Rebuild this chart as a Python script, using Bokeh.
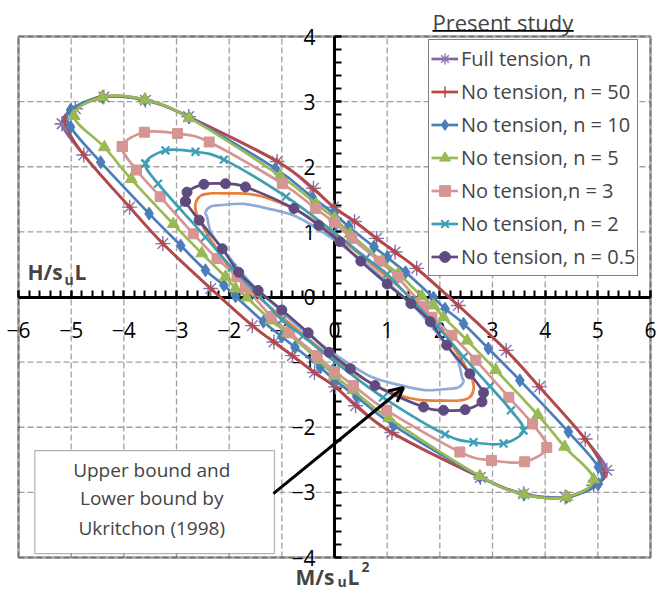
from bokeh.plotting import figure
from bokeh.models import (Range1d, FixedTicker, Legend, LegendItem, Label,
                          BoxAnnotation, Arrow, OpenHead, ColumnDataSource)
from bokeh.embed import file_html
from bokeh.resources import INLINE

# ---------------- data ----------------
x_ticks = [-6, -5, -4, -3, -2, -1, 0, 1, 2, 3, 4, 5, 6]
y_ticks = [-4, -3, -2, -1, 0, 1, 2, 3, 4]

ft_x = [-5.17, -4.92, -4.38, -3.59, -2.77, -1.09, -0.40, -0.02, 0.38, 0.80, 1.15, 1.56, 2.35, 3.26, 3.89, 4.76,
        5.17, 4.92, 4.38, 3.59, 2.77, 1.09, 0.40, 0.02, -0.38, -0.80, -1.15, -1.56, -2.35, -3.26, -3.89, -4.76, -5.17]
ft_y = [2.66, 2.89, 3.07, 3.02, 2.77, 2.08, 1.67, 1.38, 1.16, 0.90, 0.69, 0.44, -0.13, -0.82, -1.38, -2.18,
        -2.66, -2.89, -3.07, -3.02, -2.77, -2.08, -1.67, -1.38, -1.16, -0.90, -0.69, -0.44, 0.13, 0.82, 1.38, 2.18, 2.66]

n50_x = [-5.12, -4.92, -4.40, -3.60, -2.78, -1.10, -0.41, -0.01, 0.38, 0.80, 1.15, 1.56, 2.35, 3.26, 3.89, 4.76,
         5.12, 4.92, 4.40, 3.60, 2.78, 1.10, 0.41, 0.01, -0.38, -0.80, -1.15, -1.56, -2.35, -3.26, -3.89, -4.76, -5.12]
n50_y = [2.70, 2.90, 3.08, 3.03, 2.77, 2.09, 1.66, 1.38, 1.16, 0.90, 0.69, 0.44, -0.13, -0.82, -1.38, -2.18,
         -2.70, -2.90, -3.08, -3.03, -2.77, -2.09, -1.66, -1.38, -1.16, -0.90, -0.69, -0.44, 0.13, 0.82, 1.38, 2.18, 2.70]

n10_x = [-5.01, -4.41, -3.60, -2.76, -1.12, -0.42, -0.01, 0.27, 0.75, 1.00, 1.35, 1.88, 2.10, 2.45, 2.92, 3.52, 4.44, 5.01,
         5.01, 4.41, 3.60, 2.76, 1.12, 0.42, 0.01, -0.27, -0.75, -1.00, -1.35, -1.88, -2.10, -2.45, -2.92, -3.52, -4.44, -5.01, -5.01]
n10_y = [2.87, 3.07, 3.03, 2.76, 1.97, 1.53, 1.28, 1.08, 0.77, 0.61, 0.38, -0.01, -0.18, -0.41, -0.79, -1.28, -2.07, -2.61,
         -2.87, -3.07, -3.03, -2.76, -1.97, -1.53, -1.28, -1.08, -0.77, -0.61, -0.38, 0.01, 0.18, 0.41, 0.79, 1.28, 2.07, 2.61, 2.87]

n5_x = [-4.95, -4.41, -3.60, -2.76, -1.03, -0.35, 0.00, 0.30, 0.90, 1.21, 1.66, 1.88, 2.07, 2.52, 3.06, 3.86, 4.37,
        4.92, 4.41, 3.60, 2.76, 1.03, 0.35, 0.00, -0.30, -0.90, -1.21, -1.66, -1.88, -2.07, -2.52, -3.06, -3.86, -4.37, -4.95]
n5_y = [2.78, 3.07, 3.03, 2.75, 1.86, 1.43, 1.21, 0.97, 0.55, 0.36, 0.01, -0.13, -0.31, -0.67, -1.12, -1.81, -2.30,
        -2.80, -3.07, -3.03, -2.75, -1.86, -1.43, -1.21, -0.97, -0.55, -0.36, -0.01, 0.13, 0.31, 0.67, 1.12, 1.81, 2.30, 2.78]

n3_x = [-4.03, -3.61, -2.98, -2.38, -0.99, -0.36, 0.00, 0.33, 0.85, 1.20, 1.69, 1.85, 2.23, 2.68, 3.31, 3.76,
        4.03, 3.61, 2.98, 2.38, 0.99, 0.36, 0.00, -0.33, -0.85, -1.20, -1.69, -1.85, -2.23, -2.68, -3.31, -3.76, -4.03]
n3_y = [2.31, 2.53, 2.51, 2.38, 1.74, 1.36, 1.14, 0.90, 0.55, 0.30, -0.15, -0.31, -0.59, -0.97, -1.54, -1.95,
        -2.31, -2.53, -2.51, -2.38, -1.74, -1.36, -1.14, -0.90, -0.55, -0.30, 0.15, 0.31, 0.59, 0.97, 1.54, 1.95, 2.31]

n2_x = [-3.59, -3.21, -2.64, -2.10, -0.92, -0.02, 0.60, 1.00, 1.47, 1.95, 2.45, 2.95, 3.35,
        3.59, 3.21, 2.64, 2.10, 0.92, 0.02, -0.60, -1.00, -1.47, -1.95, -2.45, -2.95, -3.35, -3.59]
n2_y = [2.05, 2.25, 2.23, 2.11, 1.54, 1.00, 0.60, 0.35, -0.05, -0.45, -0.92, -1.37, -1.74,
        -2.05, -2.25, -2.23, -2.11, -1.54, -1.00, -0.60, -0.35, 0.05, 0.45, 0.92, 1.37, 1.74, 2.05]

n05_x = [-2.83, -2.80, -2.48, -2.07, -1.69, -0.77, -0.30, 0.10, 0.50, 1.00, 1.45, 1.82, 2.13, 2.57,
         2.83, 2.80, 2.48, 2.07, 1.69, 0.77, 0.30, -0.10, -0.50, -1.00, -1.45, -1.82, -2.13, -2.57, -2.83]
n05_y = [1.47, 1.61, 1.73, 1.74, 1.69, 1.36, 1.10, 0.85, 0.55, 0.20, -0.10, -0.38, -0.74, -1.18,
         -1.47, -1.61, -1.73, -1.74, -1.69, -1.36, -1.10, -0.85, -0.55, -0.20, 0.10, 0.38, 0.74, 1.18, 1.47]

ub_x = [-2.64, -2.55, -2.35, -2.00, -1.60, -1.21, -0.71, -0.01, 0.68, 1.30, 1.90, 2.26, 2.50, 2.62,
        2.64, 2.55, 2.35, 2.00, 1.60, 1.21, 0.71, 0.01, -0.68, -1.30, -1.90, -2.26, -2.50, -2.62, -2.64]
ub_y = [1.43, 1.55, 1.59, 1.59, 1.58, 1.50, 1.33, 0.97, 0.52, 0.10, -0.35, -0.77, -1.08, -1.28,
        -1.43, -1.55, -1.59, -1.59, -1.58, -1.50, -1.33, -0.97, -0.52, -0.10, 0.35, 0.77, 1.08, 1.28, 1.43]

lb_x = [-2.45, -2.35, -2.16, -1.72, -1.28, -0.71, -0.08, 0.68, 1.20, 1.60, 2.01, 2.33, 2.42,
        2.45, 2.35, 2.16, 1.72, 1.28, 0.71, 0.08, -0.68, -1.20, -1.60, -2.01, -2.33, -2.42, -2.45]
lb_y = [1.30, 1.39, 1.41, 1.43, 1.36, 1.23, 0.92, 0.46, 0.08, -0.22, -0.62, -0.97, -1.23,
        -1.30, -1.39, -1.41, -1.43, -1.36, -1.23, -0.92, -0.46, -0.08, 0.22, 0.62, 0.97, 1.23, 1.30]

series_names = ["Full tension, n", "No tension, n = 50", "No tension, n = 10", "No tension, n = 5",
                "No tension,n = 3", "No tension, n = 2", "No tension, n = 0.5"]


def smooth_segments(xs, ys):
    """Excel-style 'smoothed line' drawn as cubic Bezier segments through the given points
    (closed loop: the last point repeats the first)."""
    n = len(xs) - 1
    X, Y = xs[:n], ys[:n]
    d = dict(x0=[], y0=[], x1=[], y1=[], cx0=[], cy0=[], cx1=[], cy1=[])
    for i in range(n):
        im, i1, i2 = (i - 1) % n, (i + 1) % n, (i + 2) % n
        d["x0"].append(X[i]); d["y0"].append(Y[i])
        d["x1"].append(X[i1]); d["y1"].append(Y[i1])
        d["cx0"].append(X[i] + (X[i1] - X[im]) / 6.0); d["cy0"].append(Y[i] + (Y[i1] - Y[im]) / 6.0)
        d["cx1"].append(X[i1] - (X[i2] - X[i]) / 6.0); d["cy1"].append(Y[i1] - (Y[i2] - Y[i]) / 6.0)
    return ColumnDataSource(d)


BEZ = dict(x0="x0", y0="y0", x1="x1", y1="y1", cx0="cx0", cy0="cy0", cx1="cx1", cy1="cy1")

# ---------------- figure ----------------
# the frame fills the whole canvas; the boxed plot area is x -6..6, y -4..4
PXX = 632 / 12.0
PXY = 521 / 8.0
p = figure(width=666, height=592,
           x_range=Range1d(-6 - 18 / PXX, 6 + 16 / PXX),
           y_range=Range1d(-4 - 35 / PXY, 4 + 36 / PXY),
           output_backend="svg", toolbar_location=None,
           min_border_left=0, min_border_right=0, min_border_top=0, min_border_bottom=0)
p.outline_line_color = None
p.background_fill_color = "white"
p.xgrid.visible = False
p.ygrid.visible = False

FONT = "Open Sans"
x_minor = [i / 5 for i in range(-30, 31)]
y_minor = [i / 5 for i in range(-20, 21)]
p.xaxis.ticker = FixedTicker(ticks=x_ticks, minor_ticks=x_minor)
p.yaxis.ticker = FixedTicker(ticks=y_ticks, minor_ticks=y_minor)
p.xaxis.fixed_location = 0
p.yaxis.fixed_location = 0
p.xaxis.bounds = (x_ticks[0], x_ticks[-1])
p.yaxis.bounds = (y_ticks[0], y_ticks[-1])
for ax in (p.xaxis[0], p.yaxis[0]):
    ax.axis_line_width = 3
    ax.axis_line_color = "black"
    ax.major_tick_in = 7
    ax.major_tick_out = 0
    ax.minor_tick_in = 7
    ax.minor_tick_out = 0
    ax.major_tick_line_width = 2
    ax.minor_tick_line_width = 2
    ax.major_tick_line_color = "black"
    ax.minor_tick_line_color = "black"
    ax.major_label_text_font = FONT
    ax.major_label_text_font_size = "21px"
    ax.major_label_text_color = "black"
    ax.level = "underlay"
p.xaxis.major_label_standoff = 25
p.yaxis.major_label_standoff = 19

# dashed grid, limited to the boxed area
GRID = dict(line_color="#a0a0a0", line_dash="6 3", line_width=1.3, level="underlay")
p.segment(x0=x_ticks, y0=y_ticks[0], x1=x_ticks, y1=y_ticks[-1], **GRID)
p.segment(x0=x_ticks[0], y0=y_ticks, x1=x_ticks[-1], y1=y_ticks, **GRID)
# plot-area border
p.add_layout(BoxAnnotation(left=x_ticks[0], right=x_ticks[-1], bottom=y_ticks[0], top=y_ticks[-1],
                           fill_alpha=0, line_color="black", line_width=3, level="underlay"))

LW = 2.7
# Ukritchon bounds (no markers)
p.bezier(source=smooth_segments(ub_x, ub_y), line_color="#E8803A", line_width=LW, **BEZ)
p.bezier(source=smooth_segments(lb_x, lb_y), line_color="#8FAAD3", line_width=LW, **BEZ)

specs = [
    (ft_x, ft_y, "#7F63A3", "asterisk", 15, "#7F63A3", "#8B74B0", 1.4),
    (n50_x, n50_y, "#B84844", "cross", 7, "#B84844", "#B84844", 1.5),
    (n10_x, n10_y, "#4A7EBB", "diamond", 13, "#4A7EBB", "#4A7EBB", 1),
    (n5_x, n5_y, "#98B954", "triangle", 12, "#98B954", "#98B954", 1),
    (n3_x, n3_y, "#D69492", "square", 10, "#D69492", "#D69492", 1),
    (n2_x, n2_y, "#3E9EB5", "x", 11, "#3E9EB5", "#3E9EB5", 2.2),
    (n05_x, n05_y, "#5F4B7F", "circle", 10, "#5F4B7F", "#5F4B7F", 1),
]
items = []
for (xs, ys, col, mk, sz, fc, lc, mlw), name in zip(specs, series_names):
    lr = p.bezier(source=smooth_segments(xs, ys), line_color=col, line_width=LW, **BEZ)
    sr = p.scatter(xs, ys, marker=mk, size=sz, fill_color=fc, line_color=lc, line_width=mlw)
    items.append(LegendItem(label=name, renderers=[lr, sr]))

legend = Legend(items=items, location=(428, 316))
legend.label_text_font = FONT
legend.label_text_font_size = "20px"
legend.glyph_width = 27
legend.glyph_height = 33
legend.label_height = 33
legend.label_standoff = 3
legend.spacing = 0
legend.padding = 2
legend.margin = 0
legend.border_line_color = "black"
legend.border_line_width = 1
legend.background_fill_color = "white"
legend.background_fill_alpha = 1
p.add_layout(legend)

# legend heading, underlined
p.add_layout(Label(x=1.86, y=4.0, y_offset=15, text="Present study", text_font=FONT,
                   text_font_size="22px", text_baseline="alphabetic"))
p.add_layout(BoxAnnotation(left=1.86, right=4.54, top=4.10, bottom=4.072, fill_color="black",
                           fill_alpha=1, line_color=None))

# axis titles
p.add_layout(Label(x=-6, y=0, x_offset=9, y_offset=25, text="H/s", text_font=FONT,
                   text_font_size="21px", text_font_style="bold", text_baseline="alphabetic"))
p.add_layout(Label(x=-6, y=0, x_offset=46, y_offset=18, text="u", text_font=FONT,
                   text_font_size="14px", text_font_style="bold", text_baseline="alphabetic"))
p.add_layout(Label(x=-6, y=0, x_offset=56, y_offset=25, text="L", text_font=FONT,
                   text_font_size="21px", text_font_style="bold", text_baseline="alphabetic"))

p.add_layout(Label(x=0, y=-4, x_offset=-39, y_offset=-19, text="M/s", text_font=FONT,
                   text_font_size="21px", text_font_style="bold", text_baseline="alphabetic"))
p.add_layout(Label(x=0, y=-4, x_offset=3, y_offset=-24, text="u", text_font=FONT,
                   text_font_size="14px", text_font_style="bold", text_baseline="alphabetic"))
p.add_layout(Label(x=0, y=-4, x_offset=13, y_offset=-19, text="L", text_font=FONT,
                   text_font_size="21px", text_font_style="bold", text_baseline="alphabetic"))
p.add_layout(Label(x=0, y=-4, x_offset=27, y_offset=-9, text="2", text_font=FONT,
                   text_font_size="14px", text_font_style="bold", text_baseline="alphabetic"))

# annotation box + arrow
p.add_layout(BoxAnnotation(left=-5.69, right=-1.14, top=-2.36, bottom=-3.94, fill_color="white",
                           fill_alpha=1, line_color="black", line_width=1.2))
for txt, yy in [("Upper bound and", -2.66), ("Lower bound by", -3.09), ("Ukritchon (1998)", -3.54)]:
    p.add_layout(Label(x=-3.47, y=yy, text=txt, text_font=FONT, text_font_size="19px",
                       text_align="center", text_baseline="middle"))
p.add_layout(Arrow(end=OpenHead(size=14, line_width=3, line_color="black"),
                   x_start=-1.16, y_start=-3.02, x_end=1.31, y_end=-1.39,
                   line_width=3, line_color="black"))

open("out.html", "w").write(file_html(p, INLINE))
